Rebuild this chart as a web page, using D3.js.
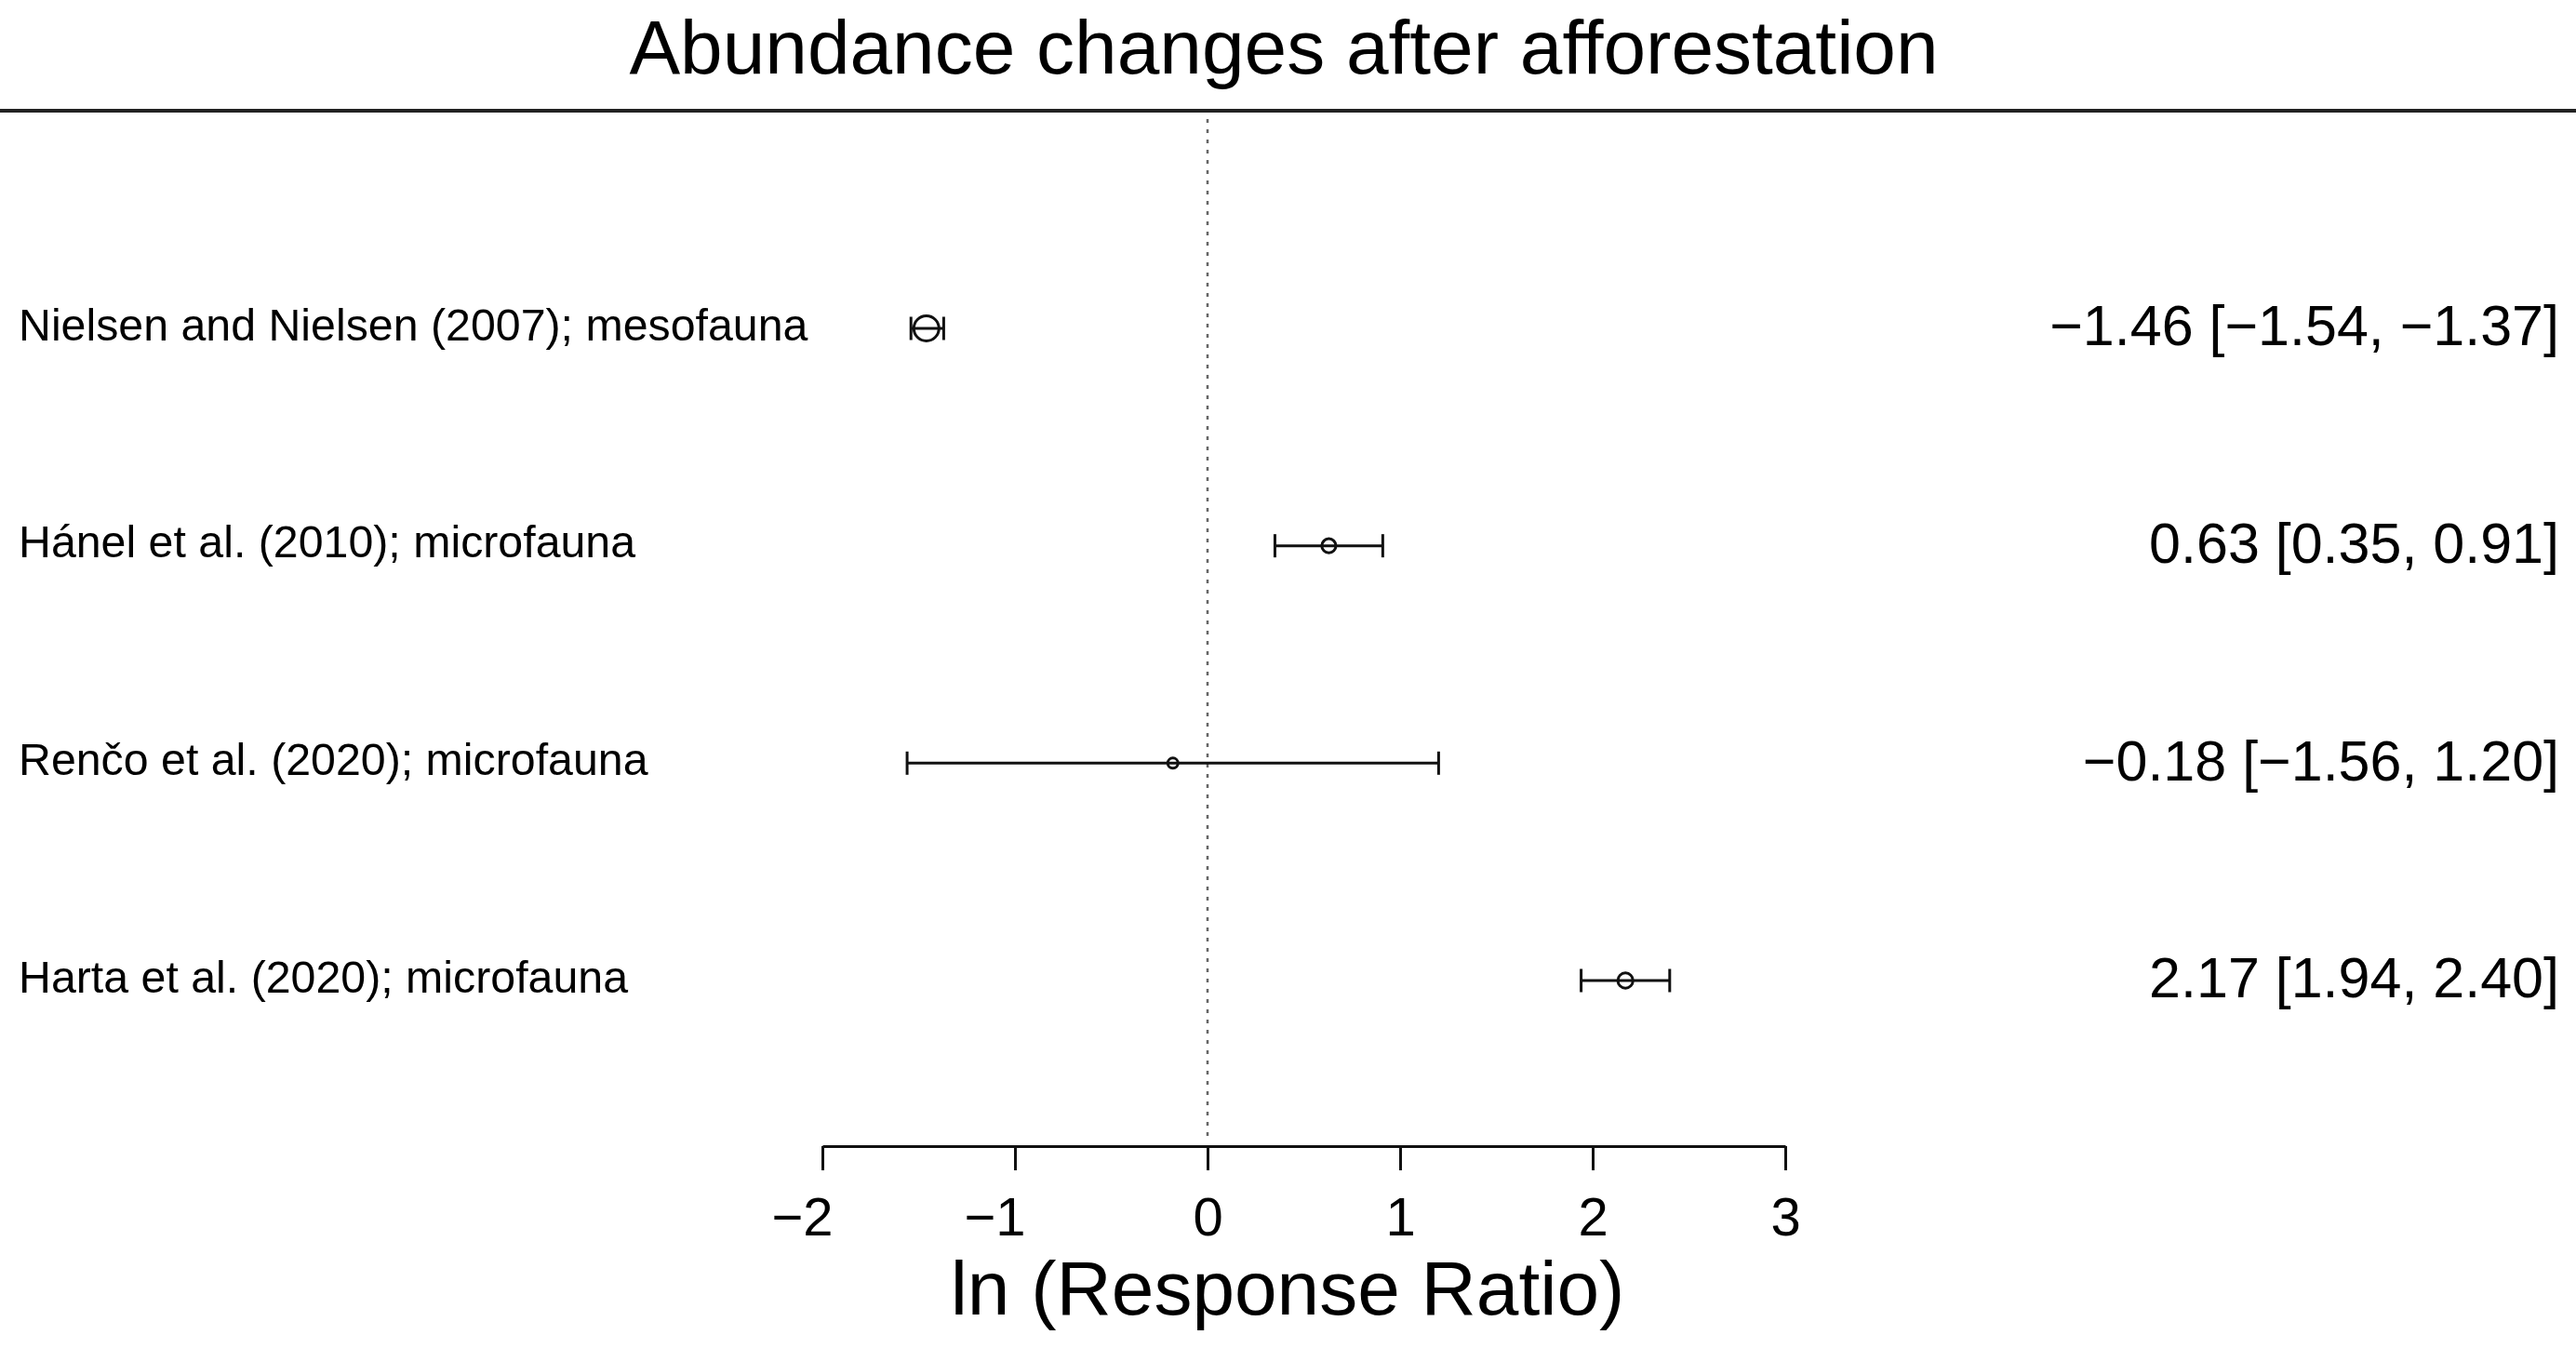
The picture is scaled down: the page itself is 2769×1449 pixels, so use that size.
<!DOCTYPE html>
<html>
<head>
<meta charset="utf-8">
<script src="https://cdn.jsdelivr.net/npm/d3@7"></script>
<style>
  html, body { margin: 0; padding: 0; background: #fff; }
  svg { display: block; }
  text { font-family: "Liberation Sans", Arial, Helvetica, sans-serif; fill: #000; }
</style>
</head>
<body>
<svg id="chart" width="2769" height="1449"></svg>
<script>
// ---- data ----
const studies = [
  "Nielsen and Nielsen (2007); mesofauna",
  "Hánel et al. (2010); microfauna",
  "Renčo et al. (2020); microfauna",
  "Harta et al. (2020); microfauna"
];
const estimate = [-1.46, 0.63, -0.18, 2.17];
const ciLower  = [-1.54, 0.35, -1.56, 1.94];
const ciUpper  = [-1.37, 0.91, 1.20, 2.40];
const xTicks   = [-2, -1, 0, 1, 2, 3];
const titleText = "Abundance changes after afforestation";
const xLabel    = "ln (Response Ratio)";

// ---- layout ----
const W = 2769, H = 1449;
const svg = d3.select("#chart");
const fmt = v => (v < 0 ? "\u2212" : "") + Math.abs(v).toFixed(2);
const tickFmt = v => (v < 0 ? "\u2212" : "") + Math.abs(v);

const x = d3.scaleLinear().domain([-2, 3]).range([884, 1919]);
const y = d3.scalePoint().domain(d3.range(studies.length)).range([353, 1054]);
const axisY = 1232;

// marker size from precision (inverse of CI width)
const prec = studies.map((d, i) => 1 / (ciUpper[i] - ciLower[i]));
const r = d3.scaleLinear().domain(d3.extent(prec)).range([5.5, 13.5]);

// title
svg.append("text")
  .attr("x", 1380).attr("y", 79)
  .attr("text-anchor", "middle")
  .attr("font-size", 82)
  .text(titleText);

// top rule
svg.append("line")
  .attr("x1", 0).attr("x2", W)
  .attr("y1", 119).attr("y2", 119)
  .attr("stroke", "#222").attr("stroke-width", 4);

// reference dotted line at 0
svg.append("line")
  .attr("x1", x(0)).attr("x2", x(0))
  .attr("y1", 128).attr("y2", 1222)
  .attr("stroke", "#666").attr("stroke-width", 2.5)
  .attr("stroke-dasharray", "4,7");

// axis
const axis = d3.axisBottom(x)
  .tickValues(xTicks)
  .tickFormat(tickFmt)
  .tickSize(26)
  .tickSizeOuter(0)
  .tickPadding(29);
const gAxis = svg.append("g")
  .attr("transform", `translate(0,${axisY})`)
  .call(axis);
gAxis.select(".domain").attr("stroke", "#111").attr("stroke-width", 3);
gAxis.selectAll(".tick line").attr("stroke", "#111").attr("stroke-width", 3);
gAxis.selectAll(".tick text")
  .attr("font-size", 58)
  .attr("font-family", "Liberation Sans, Arial, sans-serif")
  .attr("fill", "#000")
  .attr("dx", d => d < 0 ? -22 : 0);

// x label
svg.append("text")
  .attr("x", 1384).attr("y", 1413)
  .attr("text-anchor", "middle")
  .attr("font-size", 82)
  .text(xLabel);

// rows
const rows = svg.append("g").selectAll("g")
  .data(studies.map((s, i) => ({ s, i })))
  .join("g");

rows.append("line")
  .attr("x1", d => x(ciLower[d.i])).attr("x2", d => x(ciUpper[d.i]))
  .attr("y1", d => y(d.i)).attr("y2", d => y(d.i))
  .attr("stroke", "#111").attr("stroke-width", 3);

rows.append("line")
  .attr("x1", d => x(ciLower[d.i])).attr("x2", d => x(ciLower[d.i]))
  .attr("y1", d => y(d.i) - 12.5).attr("y2", d => y(d.i) + 12.5)
  .attr("stroke", "#111").attr("stroke-width", 3);

rows.append("line")
  .attr("x1", d => x(ciUpper[d.i])).attr("x2", d => x(ciUpper[d.i]))
  .attr("y1", d => y(d.i) - 12.5).attr("y2", d => y(d.i) + 12.5)
  .attr("stroke", "#111").attr("stroke-width", 3);

rows.append("circle")
  .attr("cx", d => x(estimate[d.i])).attr("cy", d => y(d.i))
  .attr("r", d => r(prec[d.i]))
  .attr("fill", "none").attr("stroke", "#111").attr("stroke-width", 3);

rows.append("text")
  .attr("x", 20).attr("y", d => y(d.i))
  .attr("dy", "0.26em")
  .attr("font-size", 48.3)
  .text(d => d.s);

rows.append("text")
  .attr("x", 2751).attr("y", d => y(d.i))
  .attr("dy", "0.3em")
  .attr("text-anchor", "end")
  .attr("font-size", 61)
  .text(d => `${fmt(estimate[d.i])} [${fmt(ciLower[d.i])}, ${fmt(ciUpper[d.i])}]`);
</script>
</body>
</html>
